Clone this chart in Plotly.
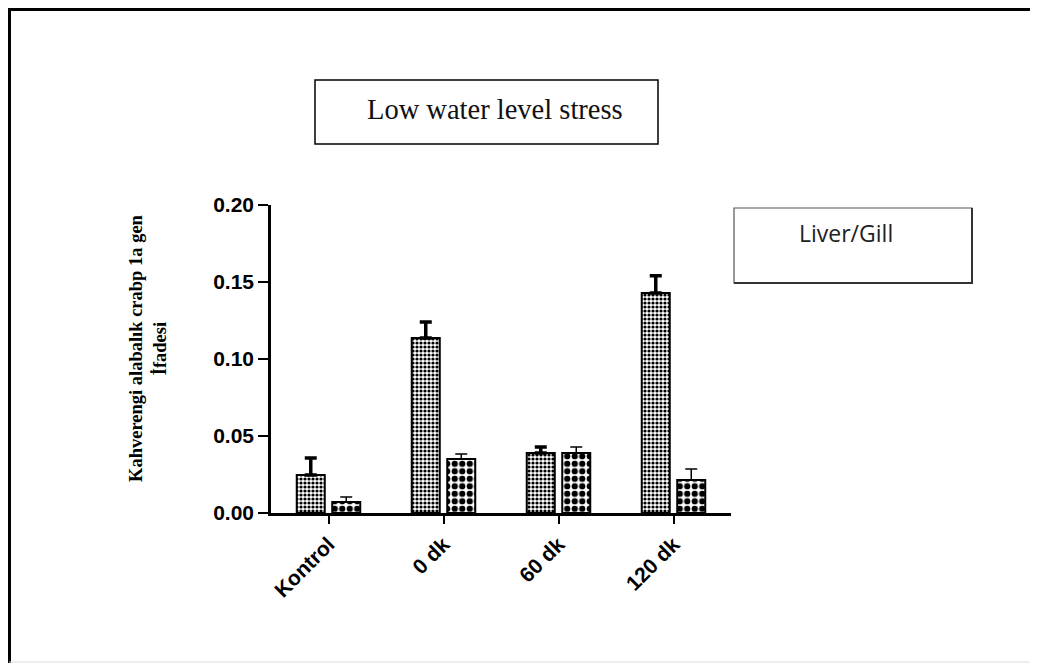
import plotly.graph_objects as go

categories = ["Kontrol", "0 dk", "60 dk", "120 dk"]
liver = [0.0247, 0.1136, 0.0390, 0.1429]
liver_err = [0.0110, 0.0104, 0.0038, 0.0111]
gill = [0.0071, 0.0350, 0.0390, 0.0214]
gill_err = [0.0033, 0.0033, 0.0038, 0.0072]
yticks = [0.00, 0.05, 0.10, 0.15, 0.20]

# the page body adds an 8px margin; lay the figure out in page pixels minus that
OFF = 8
W, H = 1038 - OFF, 663 - OFF
L, R, T, B = 271 - OFF, 731 - OFF, 205 - OFF, 513 - OFF


def px(x):
    return (x - OFF - L) / (R - L)


def py(y):
    return (B - (y - OFF)) / (B - T)


fig = go.Figure()
fig.add_trace(go.Bar(
    x=categories, y=liver, name="Liver",
    marker=dict(color="white", line=dict(color="black", width=2),
                pattern=dict(shape=".", size=4, solidity=0.5, fgcolor="black", bgcolor="white",
                             fgopacity=1)),
    error_y=dict(type="data", array=liver_err, arrayminus=[0] * 4, symmetric=False,
                 color="black", thickness=3.5, width=6),
))
fig.add_trace(go.Bar(
    x=categories, y=gill, name="Gill",
    marker=dict(color="white", line=dict(color="black", width=2),
                pattern=dict(shape=".", size=7.5, solidity=0.55, fgcolor="black", bgcolor="white",
                             fgopacity=1)),
    error_y=dict(type="data", array=gill_err, arrayminus=[0] * 4, symmetric=False,
                 color="black", thickness=1.5, width=6),
))

fig.update_layout(
    width=W, height=H,
    margin=dict(l=L, r=W - R, t=T, b=H - B, pad=0),
    paper_bgcolor="white", plot_bgcolor="white",
    barmode="group", bargap=0.383, bargroupgap=0.21,
    showlegend=False,
    font=dict(family="Liberation Sans, Arial", color="black"),
)
fig.update_xaxes(
    range=[-0.5, 3.5], showline=True, linecolor="black", linewidth=2.5,
    ticks="outside", ticklen=8, tickwidth=2, tickcolor="black",
    tickangle=-45, tickfont=dict(size=21, family="Liberation Sans, Arial", color="black", weight="bold"),
    showgrid=False, zeroline=False,
)
fig.update_yaxes(
    range=[0, 0.2], tickvals=yticks, tickformat=".2f",
    showline=True, linecolor="black", linewidth=2.5,
    ticks="outside", ticklen=10, tickwidth=2, tickcolor="black",
    tickfont=dict(size=21, family="Liberation Sans, Arial", color="black", weight="bold"),
    showgrid=False, zeroline=False,
)

shapes = [
    # outer frame
    dict(type="line", xref="paper", yref="paper", x0=px(9), x1=px(1045), y0=py(9.5), y1=py(9.5),
         line=dict(color="black", width=3)),
    dict(type="line", xref="paper", yref="paper", x0=px(9.5), x1=px(9.5), y0=py(8), y1=py(670),
         line=dict(color="black", width=3)),
    dict(type="line", xref="paper", yref="paper", x0=px(9), x1=px(1045), y0=py(662), y1=py(662),
         line=dict(color="#dddddd", width=1)),
    # title box
    dict(type="rect", xref="paper", yref="paper", x0=px(315), x1=px(658), y0=py(80), y1=py(144),
         line=dict(color="black", width=1.5), fillcolor="white"),
    # legend-like box
    dict(type="rect", xref="paper", yref="paper", x0=px(734), x1=px(972), y0=py(208), y1=py(283),
         line=dict(color="#555555", width=1.2), fillcolor="white"),
    dict(type="line", xref="paper", yref="paper", x0=px(734), x1=px(973), y0=py(283), y1=py(283),
         line=dict(color="#333333", width=2)),
    dict(type="line", xref="paper", yref="paper", x0=px(972), x1=px(972), y0=py(208), y1=py(284),
         line=dict(color="#333333", width=2)),
]
fig.update_layout(shapes=shapes)

fig.add_annotation(
    xref="paper", yref="paper", x=px(495), y=py(110), xanchor="center", yanchor="middle",
    text="Low water level stress", showarrow=False,
    font=dict(family="Liberation Serif, Times New Roman", size=28.5, color="#111111"),
)
fig.add_annotation(
    xref="paper", yref="paper", x=px(846), y=py(233), xanchor="center", yanchor="middle",
    text="Liver/Gill", showarrow=False,
    font=dict(family="Open Sans, Noto Sans", size=23, color="#222222"),
)
fig.add_annotation(
    xref="paper", yref="paper", x=px(148), y=py(348), xanchor="center", yanchor="middle",
    text="Kahverengi alabalık crabp 1a gen<br>İfadesi", showarrow=False, textangle=-90,
    font=dict(family="Liberation Serif, Times New Roman", size=18.5, color="black", weight="bold"),
)

fig.write_html("out.html")
